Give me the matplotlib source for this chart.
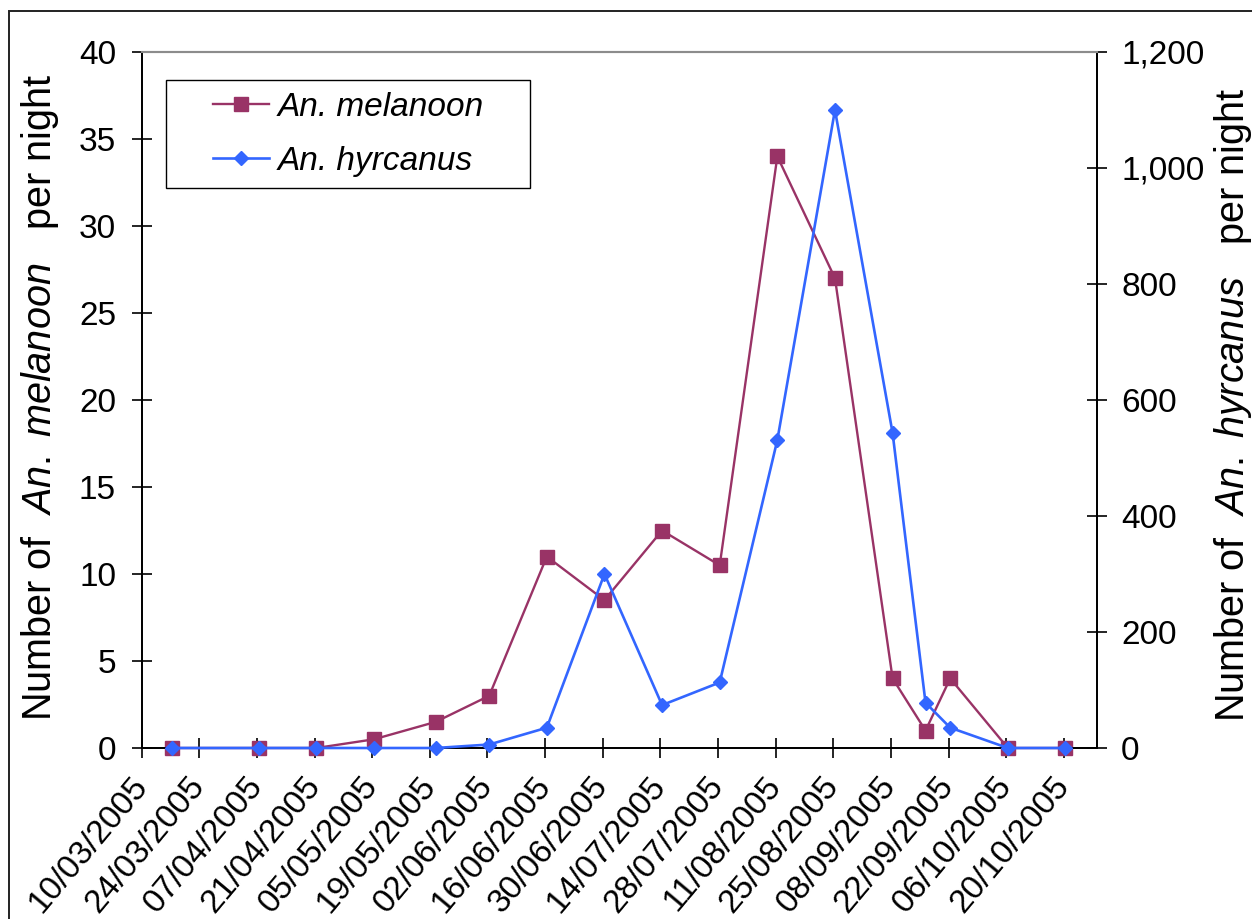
import matplotlib
matplotlib.use("Agg")
import matplotlib.pyplot as plt
import matplotlib.dates as mdates
from matplotlib.ticker import MultipleLocator, FuncFormatter
from matplotlib.patches import Rectangle
import pandas as pd

plt.rcParams["font.family"] = ["Liberation Sans", "DejaVu Sans"]
plt.rcParams["mathtext.fontset"] = "custom"
plt.rcParams["mathtext.rm"] = "Liberation Sans"
plt.rcParams["mathtext.it"] = "Liberation Sans:italic"

# sampling dates and catches per night
dates = ["2005-03-17", "2005-04-07", "2005-04-21", "2005-05-05", "2005-05-20",
         "2005-06-02", "2005-06-16", "2005-06-30", "2005-07-14", "2005-07-28",
         "2005-08-11", "2005-08-25", "2005-09-08", "2005-09-16", "2005-09-22",
         "2005-10-06", "2005-10-20"]
melanoon = [0, 0, 0, 0.5, 1.5, 3, 11, 8.5, 12.5, 10.5, 34, 27, 4, 1, 4, 0, 0]
hyrcanus = [0, 0, 0, 0, 0, 6, 35, 300, 74, 113, 531, 1100, 543, 78, 35, 0, 0]

tick_start, tick_end, x_max = "2005-03-10", "2005-10-20", "2005-10-28"

col_mel = "#993366"
col_hyr = "#3366FF"
fs = 24

# Excel plots a date in the middle of its day slot
x = pd.to_datetime(dates) + pd.Timedelta(hours=10)

fig = plt.figure(figsize=(12.52, 9.19), dpi=100)
ax = fig.add_axes([0.11318, 0.18607, 0.76278, 0.75735])
ax2 = ax.twinx()

l1, = ax.plot(x, melanoon, color=col_mel, lw=1.7, marker="s", ms=10.5,
              mec=col_mel, label="An. melanoon", clip_on=False, zorder=3)
l2, = ax2.plot(x, hyrcanus, color=col_hyr, lw=1.9, marker="D", ms=7.4,
               mec=col_hyr, label="An. hyrcanus", clip_on=False, zorder=3)

ax.set_xlim(pd.Timestamp(tick_start), pd.Timestamp(x_max))
ax.set_ylim(0, 40)
ax2.set_ylim(0, 1200)
ax.yaxis.set_major_locator(MultipleLocator(5))
ax2.yaxis.set_major_locator(MultipleLocator(200))
ax2.yaxis.set_major_formatter(FuncFormatter(lambda v, p: f"{v:,.0f}"))

ticks = pd.date_range(tick_start, tick_end, freq="14D")
ax.set_xticks(ticks)
ax.xaxis.set_major_formatter(mdates.DateFormatter("%d/%m/%Y"))
for lab in ax.get_xticklabels():
    lab.set_rotation(50)
    lab.set_ha("right")
    lab.set_va("center")
    lab.set_rotation_mode("anchor")

ax.tick_params(axis="both", direction="inout", length=15, width=1.2,
               labelsize=fs, colors="black")
ax.tick_params(axis="y", pad=11)
ax.tick_params(axis="x", pad=16)
ax2.tick_params(axis="y", direction="inout", length=15, width=1.2,
                labelsize=fs, pad=10)

for a in (ax, ax2):
    for s in ("left", "right", "bottom"):
        a.spines[s].set_color("black")
        a.spines[s].set_linewidth(1.3)
    a.spines["top"].set_color("#8c8c8c")
    a.spines["top"].set_linewidth(1.5)

fig.text(0.032, 0.567, "Number of  $\\mathit{An.\\ melanoon}$   per night",
         rotation=90, ha="center", va="center", fontsize=28.5)
fig.text(0.985, 0.559, "Number of  $\\mathit{An.\\ hyrcanus}$   per night",
         rotation=90, ha="center", va="center", fontsize=28.5)

leg = ax2.legend(handles=[l1, l2], loc="upper left",
                 bbox_to_anchor=(213 / 1252, 1 - 92 / 919),
                 bbox_transform=fig.transFigure, frameon=False,
                 borderaxespad=0, borderpad=0,
                 prop={"style": "italic", "size": fs}, handlelength=1.68,
                 handletextpad=0.25, labelspacing=0.68)
# legend box as drawn in the original chart
fig.patches.append(Rectangle((166 / 1252, 1 - 188 / 919), 364 / 1252, 108 / 919,
                             transform=fig.transFigure, fill=False,
                             edgecolor="black", lw=1.0, zorder=5))

# outer chart-area frame
fig.patches.append(Rectangle((0.0072, -0.2), 1.5, 1.188, transform=fig.transFigure,
                             fill=False, edgecolor="#222222", lw=1.4))

fig.savefig("out.png", dpi=100)
